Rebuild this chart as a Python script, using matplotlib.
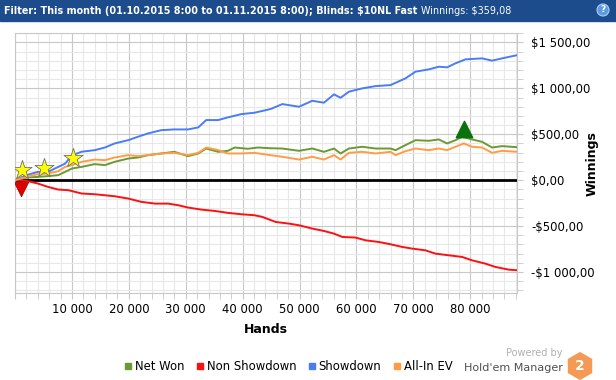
import numpy as np
import matplotlib
matplotlib.use('Agg')
import matplotlib.pyplot as plt
import matplotlib.patches as mpatches
from matplotlib.lines import Line2D
from matplotlib.ticker import MultipleLocator, FuncFormatter

# hands (x) and cumulative winnings (y)
showdown_hands = [0, 2000, 4000, 5800, 7000, 8800, 10000, 11700, 14000, 15800, 17500, 19900,
                  21600, 23400, 25700, 28000, 30400, 32200, 33600, 35700, 37400, 39800, 42100,
                  44900, 46970, 49900, 52230, 54280, 56040, 57200, 58670, 61000, 63350, 65980,
                  68600, 70370, 72700, 74460, 75920, 77390, 79140, 82060, 83820, 85580, 88380]
showdown = [0, 55, 90, 90, 127, 180, 270, 310, 327, 356, 400, 436,
            473, 510, 545, 553, 553, 575, 655, 655, 684, 720, 735,
            775, 829, 800, 865, 844, 935, 898, 964, 1000, 1025, 1036,
            1109, 1182, 1207, 1236, 1229, 1273, 1316, 1327, 1302, 1327, 1364]

net_hands = [0, 2000, 4000, 5800, 7600, 8800, 10000, 11700, 14000, 15800, 17500, 19900,
             21600, 23400, 25700, 28000, 30400, 32200, 33600, 35700, 37400, 38600, 40900,
             42700, 44900, 46970, 49900, 52230, 54280, 56040, 57200, 58670, 61000, 63350,
             65980, 66860, 68600, 70370, 72700, 74460, 75920, 77390, 78560, 80310, 82060,
             83820, 85580, 88380]
net_won = [0, 29, 36, 44, 55, 91, 127, 145, 175, 164, 200, 236,
           247, 273, 291, 309, 262, 291, 345, 309, 320, 356, 342,
           356, 348, 345, 320, 345, 309, 345, 291, 345, 364, 345,
           345, 327, 382, 436, 429, 444, 400, 436, 473, 444, 418,
           356, 371, 359]

ev_hands = [0, 2000, 4000, 5800, 7600, 8800, 10000, 11700, 14000, 15800, 17500, 19900,
            21600, 23400, 25700, 28000, 30400, 32200, 33600, 35700, 37400, 39800, 42100,
            43460, 46970, 49900, 52230, 54280, 56040, 57200, 58670, 61000, 63350, 65980,
            66860, 68600, 70370, 72700, 74460, 75920, 77390, 78850, 80310, 82060, 83820,
            85580, 88380]
allin_ev = [0, 36, 65, 73, 98, 145, 164, 200, 225, 218, 247, 273,
            262, 273, 291, 298, 273, 298, 356, 327, 291, 291, 298,
            285, 255, 225, 255, 225, 273, 225, 298, 309, 291, 309,
            273, 316, 345, 327, 345, 327, 364, 400, 364, 356, 298,
            320, 309]

nonsd_hands = [0, 2000, 4000, 5800, 7600, 9400, 11700, 14000, 15800, 17500, 19900, 22200,
               24600, 26900, 28700, 30400, 32700, 35100, 37400, 39800, 42100, 43460, 45800,
               48140, 49900, 52230, 54280, 56040, 57500, 59840, 61600, 63930, 65980, 68030,
               69780, 72120, 73870, 76200, 78560, 80310, 82650, 84400, 86720, 88380]
non_showdown = [0, -7, -36, -73, -102, -109, -145, -153, -164, -175, -200, -236,
                -255, -255, -273, -298, -320, -335, -356, -371, -382, -400, -455,
                -473, -491, -527, -553, -582, -618, -625, -655, -673, -698, -727,
                -745, -764, -800, -818, -836, -873, -909, -945, -974, -982]

star_hands = [1300, 5150, 10230]
star_values = [116, 135, 247]
loss_hand, loss_value = 1050, -91
win_hand, win_value = 78850, 553

labels = ['Net Won', 'Non Showdown', 'Showdown', 'All-In EV']
colors = ['#6b9a33', '#ff1010', '#4a7cf7', '#ff9c45']

W, H = 616, 380
fig = plt.figure(figsize=(W / 100, H / 100), dpi=100)
plt.rcParams['font.family'] = 'DejaVu Sans'

# header bar
fig.patches.append(mpatches.Rectangle((0, 1 - 21 / H), 1, 21 / H, transform=fig.transFigure,
                                      color='#1d4c8c', zorder=0))
t = fig.text(4 / W, 1 - 10.5 / H,
             'Filter: This month (01.10.2015 8:00 to 01.11.2015 8:00); Blinds: $10NL Fast',
             color='white', fontsize=6.9, fontweight='bold', va='center', ha='left')
fig.canvas.draw()
bb = t.get_window_extent()
fig.text((bb.x1 + 4) / W, 1 - 10.5 / H, 'Winnings: $359,08', color='white', fontsize=6.9,
         va='center', ha='left')
fig.patches.append(mpatches.Ellipse((603 / W, 1 - 10 / H), 12 / W, 12 / H, transform=fig.transFigure,
                                    facecolor='#5d9be0', edgecolor='#a9cdf2', lw=0.8, zorder=1))
fig.text(603 / W, 1 - 10 / H, '?', color='white', fontsize=6.5, fontweight='bold',
         ha='center', va='center')

ax = fig.add_axes([15 / W, 1 - 293.3 / H, 502 / W, 260 / H])
ax.plot(net_hands, net_won, color=colors[0], lw=1.4, zorder=3)
ax.plot(nonsd_hands, non_showdown, color=colors[1], lw=1.4, zorder=3)
ax.plot(showdown_hands, showdown, color=colors[2], lw=1.4, zorder=3)
ax.plot(ev_hands, allin_ev, color=colors[3], lw=1.4, zorder=3)
ax.axhline(0, color='black', lw=2, zorder=2)

ax.scatter(star_hands, star_values, marker='*', s=210, color='#ffff00', edgecolor='#707070',
           linewidth=0.6, zorder=5)
ax.scatter([loss_hand], [loss_value], marker='v', s=110, color='#e00000', edgecolor='#900000',
           linewidth=0.5, zorder=5)
ax.scatter([win_hand], [win_value], marker='^', s=140, color='#0a720a', zorder=5)

ax.set_xlim(0, 88200)
ax.set_ylim(-1232, 1600)
ax.xaxis.set_major_locator(MultipleLocator(10000))
ax.xaxis.set_minor_locator(MultipleLocator(2000))
ax.yaxis.set_major_locator(MultipleLocator(500))
ax.yaxis.set_minor_locator(MultipleLocator(100))
ax.grid(which='major', color='#c8c8c8', lw=0.8, zorder=0)
ax.grid(which='minor', color='#e8e8e8', lw=0.8, zorder=0)
for s in ax.spines.values():
    s.set_color('#c8c8c8')


def money(v, pos):
    s = '{:,.2f}'.format(abs(v)).replace(',', ' ').replace('.', ',')
    return ('-$' if v < 0 else '$') + s


def hands_fmt(v, pos):
    if v <= 0:
        return ''
    return '{:,.0f}'.format(v).replace(',', ' ')


ax.yaxis.tick_right()
ax.yaxis.set_major_formatter(FuncFormatter(money))
ax.xaxis.set_major_formatter(FuncFormatter(hands_fmt))
ax.tick_params(axis='both', which='both', color='#c8c8c8', labelsize=8.4, labelcolor='black')
ax.tick_params(axis='both', which='major', length=4)
ax.tick_params(axis='both', which='minor', length=4)
ax.tick_params(axis='y', pad=6)
ax.tick_params(axis='x', pad=3)
ax.set_xlabel('Hands', fontsize=9, fontweight='bold', labelpad=5)
ax.set_ylabel('Winnings', fontsize=9, fontweight='bold', rotation=90, va='center', ha='center')
ax.yaxis.set_label_coords((592 - 15) / 502, 0.5)

handles = [Line2D([], [], ls='none', marker='s', markersize=5, color=c) for c in colors]
fig.legend(handles, labels, loc='center', bbox_to_anchor=(288 / W, 1 - 367 / H), ncol=4,
           frameon=False, fontsize=8.4, handletextpad=0.2, columnspacing=0.9, handlelength=0.8)

# logo
fig.text(563 / W, 1 - 353 / H, 'Powered by', color='#b0b0b0', fontsize=7, ha='right', va='center')
fig.text(563 / W, 1 - 368 / H, "Hold'em Manager", color='#505050', fontsize=8, ha='right',
         va='center')
lax = fig.add_axes([566 / W, 1 - 380 / H, 28 / W, 28 / H])
lax.set_xlim(-1, 1)
lax.set_ylim(-1, 1)
lax.set_aspect('equal')
lax.axis('off')
lax.add_patch(mpatches.RegularPolygon((0, 0), 6, radius=0.95, orientation=0, color='#f59a55'))
lax.text(0, -0.02, '2', color='white', fontsize=10, fontweight='bold', ha='center', va='center')

fig.savefig('out.png', dpi=100)
